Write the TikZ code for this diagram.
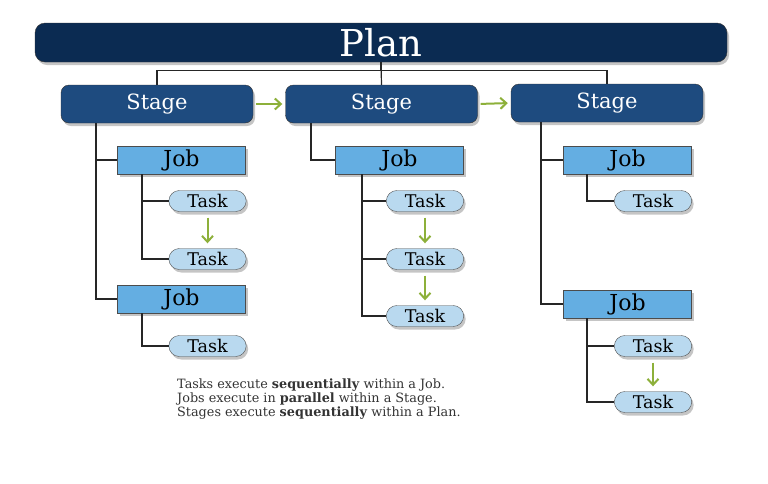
\documentclass[tikz,border=0pt]{standalone}
\usepackage{fontspec}
\setmainfont{DejaVu Serif}
\usetikzlibrary{shapes.misc,shadows,arrows.meta}

\definecolor{plannavy}{HTML}{0B2B52}
\definecolor{stageblue}{HTML}{1E4B7F}
\definecolor{jobblue}{HTML}{64AEE2}
\definecolor{taskblue}{HTML}{B9D9EF}
\definecolor{flowgreen}{HTML}{8DB03A}

\tikzset{
  boxshadow/.style={drop shadow={shadow xshift=2pt, shadow yshift=-3pt, fill=black!45, opacity=.5}},
  planbox/.style={draw=black!80, fill=plannavy, rounded corners=10pt, boxshadow,
    minimum width=692pt, minimum height=39pt, inner ysep=0pt, text=white,
    font=\fontsize{37}{38}\selectfont},
  stagebox/.style={draw=black!80, fill=stageblue, rounded corners=8pt, boxshadow,
    minimum width=192pt, minimum height=38pt, inner ysep=0pt, text=white,
    font=\fontsize{21}{22}\selectfont},
  jobbox/.style={draw=black!70, fill=jobblue, boxshadow, inner ysep=0pt,
    minimum width=128pt, minimum height=28pt, font=\fontsize{22}{23}\selectfont},
  taskbox/.style={draw=black!70, fill=taskblue, rounded rectangle, boxshadow,
    minimum width=84pt, minimum height=21pt, inner ysep=0pt, font=\fontsize{17.5}{18}\selectfont},
  tree/.style={draw=black!85, line width=1.2pt},
  flow/.style={draw=flowgreen, line width=2pt, -{Straight Barb[length=6pt,width=11pt]}},
}

\begin{document}
\begin{tikzpicture}[x=1pt, y=-1pt]
    \useasboundingbox (0,0) rectangle (768,483);

    % Plan and stages
    \node[planbox] (plan) at (381,42.5) {Plan};
    \node[stagebox] (s1) at (157,104) {Stage};
    \node[stagebox] (s2) at (381.5,104) {Stage};
    \node[stagebox] (s3) at (607,103) {Stage};

    \draw[tree] (plan.south) -- ++(0,8) -| (s1.north);
    \draw[tree] (plan.south) -- (s2.north);
    \draw[tree] (plan.south) -- ++(0,8) -| (s3.north);

    \draw[flow, shorten <=3pt, shorten >=3pt] (s1.east) -- (s2.west);
    \draw[flow, shorten <=3pt, shorten >=3pt] (s2.east) -- (s3.west);

    % Stage 1
    \node[jobbox] (j11) at (181.5,160) {Job};
    \node[jobbox] (j12) at (181.5,299) {Job};
    \node[taskbox] (t111) at (207.5,201) {Task};
    \node[taskbox] (t112) at (207.5,259) {Task};
    \node[taskbox] (t121) at (207.5,346) {Task};

    \coordinate (s1trunk) at (96,123);
    \coordinate (j11trunk) at (142,174);
    \coordinate (j12trunk) at (142,313);
    \draw[tree] (s1trunk) |- (j11.west);
    \draw[tree] (s1trunk) |- (j12.west);
    \draw[tree] (j11trunk) |- (t111.west);
    \draw[tree] (j11trunk) |- (t112.west);
    \draw[tree] (j12trunk) |- (t121.west);
    \draw[flow, shorten <=6pt, shorten >=5pt] (t111.south) -- (t112.north);

    % Stage 2
    \node[jobbox] (j21) at (399.5,160) {Job};
    \node[taskbox] (t211) at (425,201) {Task};
    \node[taskbox] (t212) at (425,259) {Task};
    \node[taskbox] (t213) at (425,316) {Task};

    \coordinate (s2trunk) at (311,123);
    \coordinate (j21trunk) at (362,174);
    \draw[tree] (s2trunk) |- (j21.west);
    \draw[tree] (j21trunk) |- (t211.west);
    \draw[tree] (j21trunk) |- (t212.west);
    \draw[tree] (j21trunk) |- (t213.west);
    \draw[flow, shorten <=6pt, shorten >=5pt] (t211.south) -- (t212.north);
    \draw[flow, shorten <=6pt, shorten >=5pt] (t212.south) -- (t213.north);

    % Stage 3
    \node[jobbox] (j31) at (627.5,160) {Job};
    \node[jobbox] (j32) at (627.5,304) {Job};
    \node[taskbox] (t311) at (653,201) {Task};
    \node[taskbox] (t321) at (653,346) {Task};
    \node[taskbox] (t322) at (653,402) {Task};

    \coordinate (s3trunk) at (541,122);
    \coordinate (j31trunk) at (587,174);
    \coordinate (j32trunk) at (587,318);
    \draw[tree] (s3trunk) |- (j31.west);
    \draw[tree] (s3trunk) |- (j32.west);
    \draw[tree] (j31trunk) |- (t311.west);
    \draw[tree] (j32trunk) |- (t321.west);
    \draw[tree] (j32trunk) |- (t322.west);
    \draw[flow, shorten <=6pt, shorten >=5pt] (t321.south) -- (t322.north);

    % Legend
    \node[anchor=north west, align=left, text=black!80, inner sep=0pt,
      font=\fontsize{12.8}{13.8}\selectfont] (legend) at (177,379)
      {Tasks execute \textbf{sequentially} within a Job.\\
       Jobs execute in \textbf{parallel} within a Stage.\\
       Stages execute \textbf{sequentially} within a Plan.};
\end{tikzpicture}
\end{document}
